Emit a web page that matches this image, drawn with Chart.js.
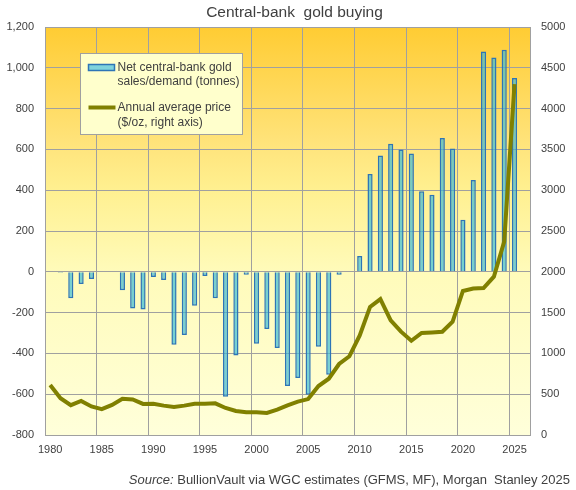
<!DOCTYPE html>
<html>
<head>
<meta charset="utf-8">
<script src="https://cdn.jsdelivr.net/npm/chart.js@4.4.1/dist/chart.umd.min.js"></script>
<style>
    body { margin: 0; background: #ffffff; }
    #wrap { width: 576px; height: 490px; }
</style>
</head>
<body>
<div id="wrap"><canvas id="goldChart"></canvas></div>
<script>
const years = [
    '1980', '1981', '1982', '1983', '1984', '1985', '1986', '1987', '1988', '1989',
    '1990', '1991', '1992', '1993', '1994', '1995', '1996', '1997', '1998', '1999',
    '2000', '2001', '2002', '2003', '2004', '2005', '2006', '2007', '2008', '2009',
    '2010', '2011', '2012', '2013', '2014', '2015', '2016', '2017', '2018', '2019',
    '2020', '2021', '2022', '2023', '2024', '2025', '2026'
]

// net central-bank sales (-) / demand (+), tonnes
const cbTonnes = [
    0, -5, -130, -60, -35, 0, 0, -90, -180, -185,
    -25, -40, -358, -310, -167, -20, -130, -613, -410, -15,
    -353, -280, -373, -560, -520, -603, -368, -505, -15, 0,
    78, 480, 570, 628, 600, 580, 395, 378, 656, 605,
    255, 450, 1080, 1050, 1089, 950, null
]

// annual average gold price, $/oz
const goldPrice = [
    613, 450, 365, 418, 350, 317, 368, 445, 435, 381,
    383, 360, 344, 360, 384, 384, 388, 331, 294, 279,
    279, 271, 310, 363, 409, 440, 600, 690, 870, 965,
    1220, 1570, 1665, 1405, 1266, 1155, 1250, 1257, 1265, 1390,
    1765, 1795, 1800, 1940, 2370, 4300, null
]

const tonneAxis = { min: -800, max: 1200, step: 200 }
const priceAxis = { min: 0, max: 5000, step: 500 }

const chartTitle = 'Central-bank  gold buying'
const sourceLead = 'Source:'
const sourceText = ' BullionVault via WGC estimates (GFMS, MF), Morgan  Stanley 2025'

const barLabel = 'Net central-bank gold\nsales/demand (tonnes)'
const lineLabel = 'Annual average price\n($/oz, right axis)'

const textColor = '#404040'
const gridColor = '#a0a0a0'
const barFill = 'rgba(60, 190, 215, 0.7)'
const barEdge = '#2e75b6'
const lineColor = '#808000'
const fontName = '"Liberation Sans", Arial, sans-serif'

const plotBackground = {
    id: 'plotBackground',
    beforeDraw(chart) {
        const ctx = chart.ctx
        const a = chart.chartArea
        const g = ctx.createLinearGradient(0, a.top, 0, a.bottom)
        g.addColorStop(0, '#ffcc33')
        g.addColorStop(0.28, '#ffe37a')
        g.addColorStop(0.4, '#fff090')
        g.addColorStop(0.6, '#fffbba')
        g.addColorStop(1, '#ffffda')
        ctx.save()
        ctx.fillStyle = g
        ctx.fillRect(a.left, a.top, a.right - a.left, a.bottom - a.top)
        ctx.restore()
    }
}

const extraText = {
    id: 'extraText',
    afterDraw(chart) {
        const ctx = chart.ctx
        const a = chart.chartArea
        ctx.save()

        // title
        ctx.fillStyle = textColor
        ctx.font = '15.5px ' + fontName
        ctx.textAlign = 'center'
        ctx.textBaseline = 'middle'
        ctx.fillText(chartTitle, 294.5, 13)

        // source line, right aligned
        ctx.textAlign = 'left'
        ctx.font = '13px ' + fontName
        const restW = ctx.measureText(sourceText).width
        ctx.font = 'italic 13px ' + fontName
        const leadW = ctx.measureText(sourceLead).width
        const sx = 570 - restW - leadW
        ctx.fillText(sourceLead, sx, 480)
        ctx.font = '13px ' + fontName
        ctx.fillText(sourceText, sx + leadW, 480)

        // legend box
        const bx = a.left + 35.5
        const by = a.top + 26.5
        ctx.fillStyle = '#ffffcc'
        ctx.strokeStyle = gridColor
        ctx.lineWidth = 1
        ctx.fillRect(bx, by, 162, 81)
        ctx.strokeRect(bx, by, 162, 81)

        const ds = chart.data.datasets
        const bar = ds.find(d => d.type === 'bar')
        const line = ds.find(d => d.type === 'line')

        ctx.fillStyle = '#7fd3dc'
        ctx.fillRect(bx + 8, by + 11, 26, 6)
        ctx.strokeStyle = barEdge
        ctx.lineWidth = 1.5
        ctx.strokeRect(bx + 8, by + 11, 26, 6)

        ctx.strokeStyle = lineColor
        ctx.lineWidth = 4
        ctx.beginPath()
        ctx.moveTo(bx + 8, by + 54)
        ctx.lineTo(bx + 35, by + 54)
        ctx.stroke()

        ctx.fillStyle = textColor
        ctx.font = '12px ' + fontName
        ctx.textBaseline = 'middle'
        bar.label.split('\n').forEach(function (t, i) {
            ctx.fillText(t, bx + 37, by + 14 + i * 14.3)
        })
        line.label.split('\n').forEach(function (t, i) {
            ctx.fillText(t, bx + 37, by + 54.5 + i * 14.3)
        })

        ctx.restore()
    }
}

const data = {
    labels: years,
    datasets: [
        {
            type: 'line',
            label: lineLabel,
            data: goldPrice,
            yAxisID: 'price',
            borderColor: lineColor,
            borderWidth: 4,
            pointRadius: 0,
            tension: 0,
            order: 0
        },
        {
            type: 'bar',
            label: barLabel,
            data: cbTonnes,
            yAxisID: 'tonnes',
            backgroundColor: barFill,
            borderColor: barEdge,
            borderWidth: 1.5,
            barPercentage: 0.5,
            categoryPercentage: 1,
            order: 1
        }
    ]
}

const config = {
    type: 'bar',
    data: data,
    options: {
        responsive: true,
        maintainAspectRatio: false,
        animation: false,
        layout: { padding: { top: 27, left: 0, right: 0, bottom: 0 } },
        plugins: {
            legend: { display: false },
            title: { display: false },
            tooltip: { enabled: false }
        },
        scales: {
            x: {
                offset: true,
                grid: {
                    offset: true,
                    drawTicks: false,
                    color: function (c) {
                        if (c.index === undefined || c.index % 5 === 0) return gridColor
                        return 'transparent'
                    }
                },
                border: { display: true, color: gridColor },
                ticks: {
                    autoSkip: false,
                    maxRotation: 0,
                    padding: 8,
                    color: textColor,
                    font: { family: fontName, size: 11 },
                    callback: function (v, i) {
                        const y = years[i]
                        return Number(y) % 5 === 0 && Number(y) <= 2025 ? y : ''
                    }
                },
                afterFit: function (s) { s.height = 55 }
            },
            tonnes: {
                position: 'left',
                min: tonneAxis.min,
                max: tonneAxis.max,
                grid: { color: gridColor, drawTicks: false },
                border: { display: true, color: gridColor },
                ticks: {
                    stepSize: tonneAxis.step,
                    padding: 11,
                    color: textColor,
                    font: { family: fontName, size: 11 },
                    callback: function (v) { return v.toLocaleString('en-US') }
                },
                afterFit: function (s) { s.width = 45 }
            },
            price: {
                position: 'right',
                min: priceAxis.min,
                max: priceAxis.max,
                grid: { display: false, drawTicks: false },
                border: { display: true, color: gridColor },
                ticks: {
                    stepSize: priceAxis.step,
                    padding: 11,
                    color: textColor,
                    font: { family: fontName, size: 11 },
                    callback: function (v) { return String(v) }
                },
                afterFit: function (s) { s.width = 46 }
            }
        }
    },
    plugins: [plotBackground, extraText]
}

const goldChart = new Chart(
    document.getElementById('goldChart'),
    config
)
</script>
</body>
</html>
